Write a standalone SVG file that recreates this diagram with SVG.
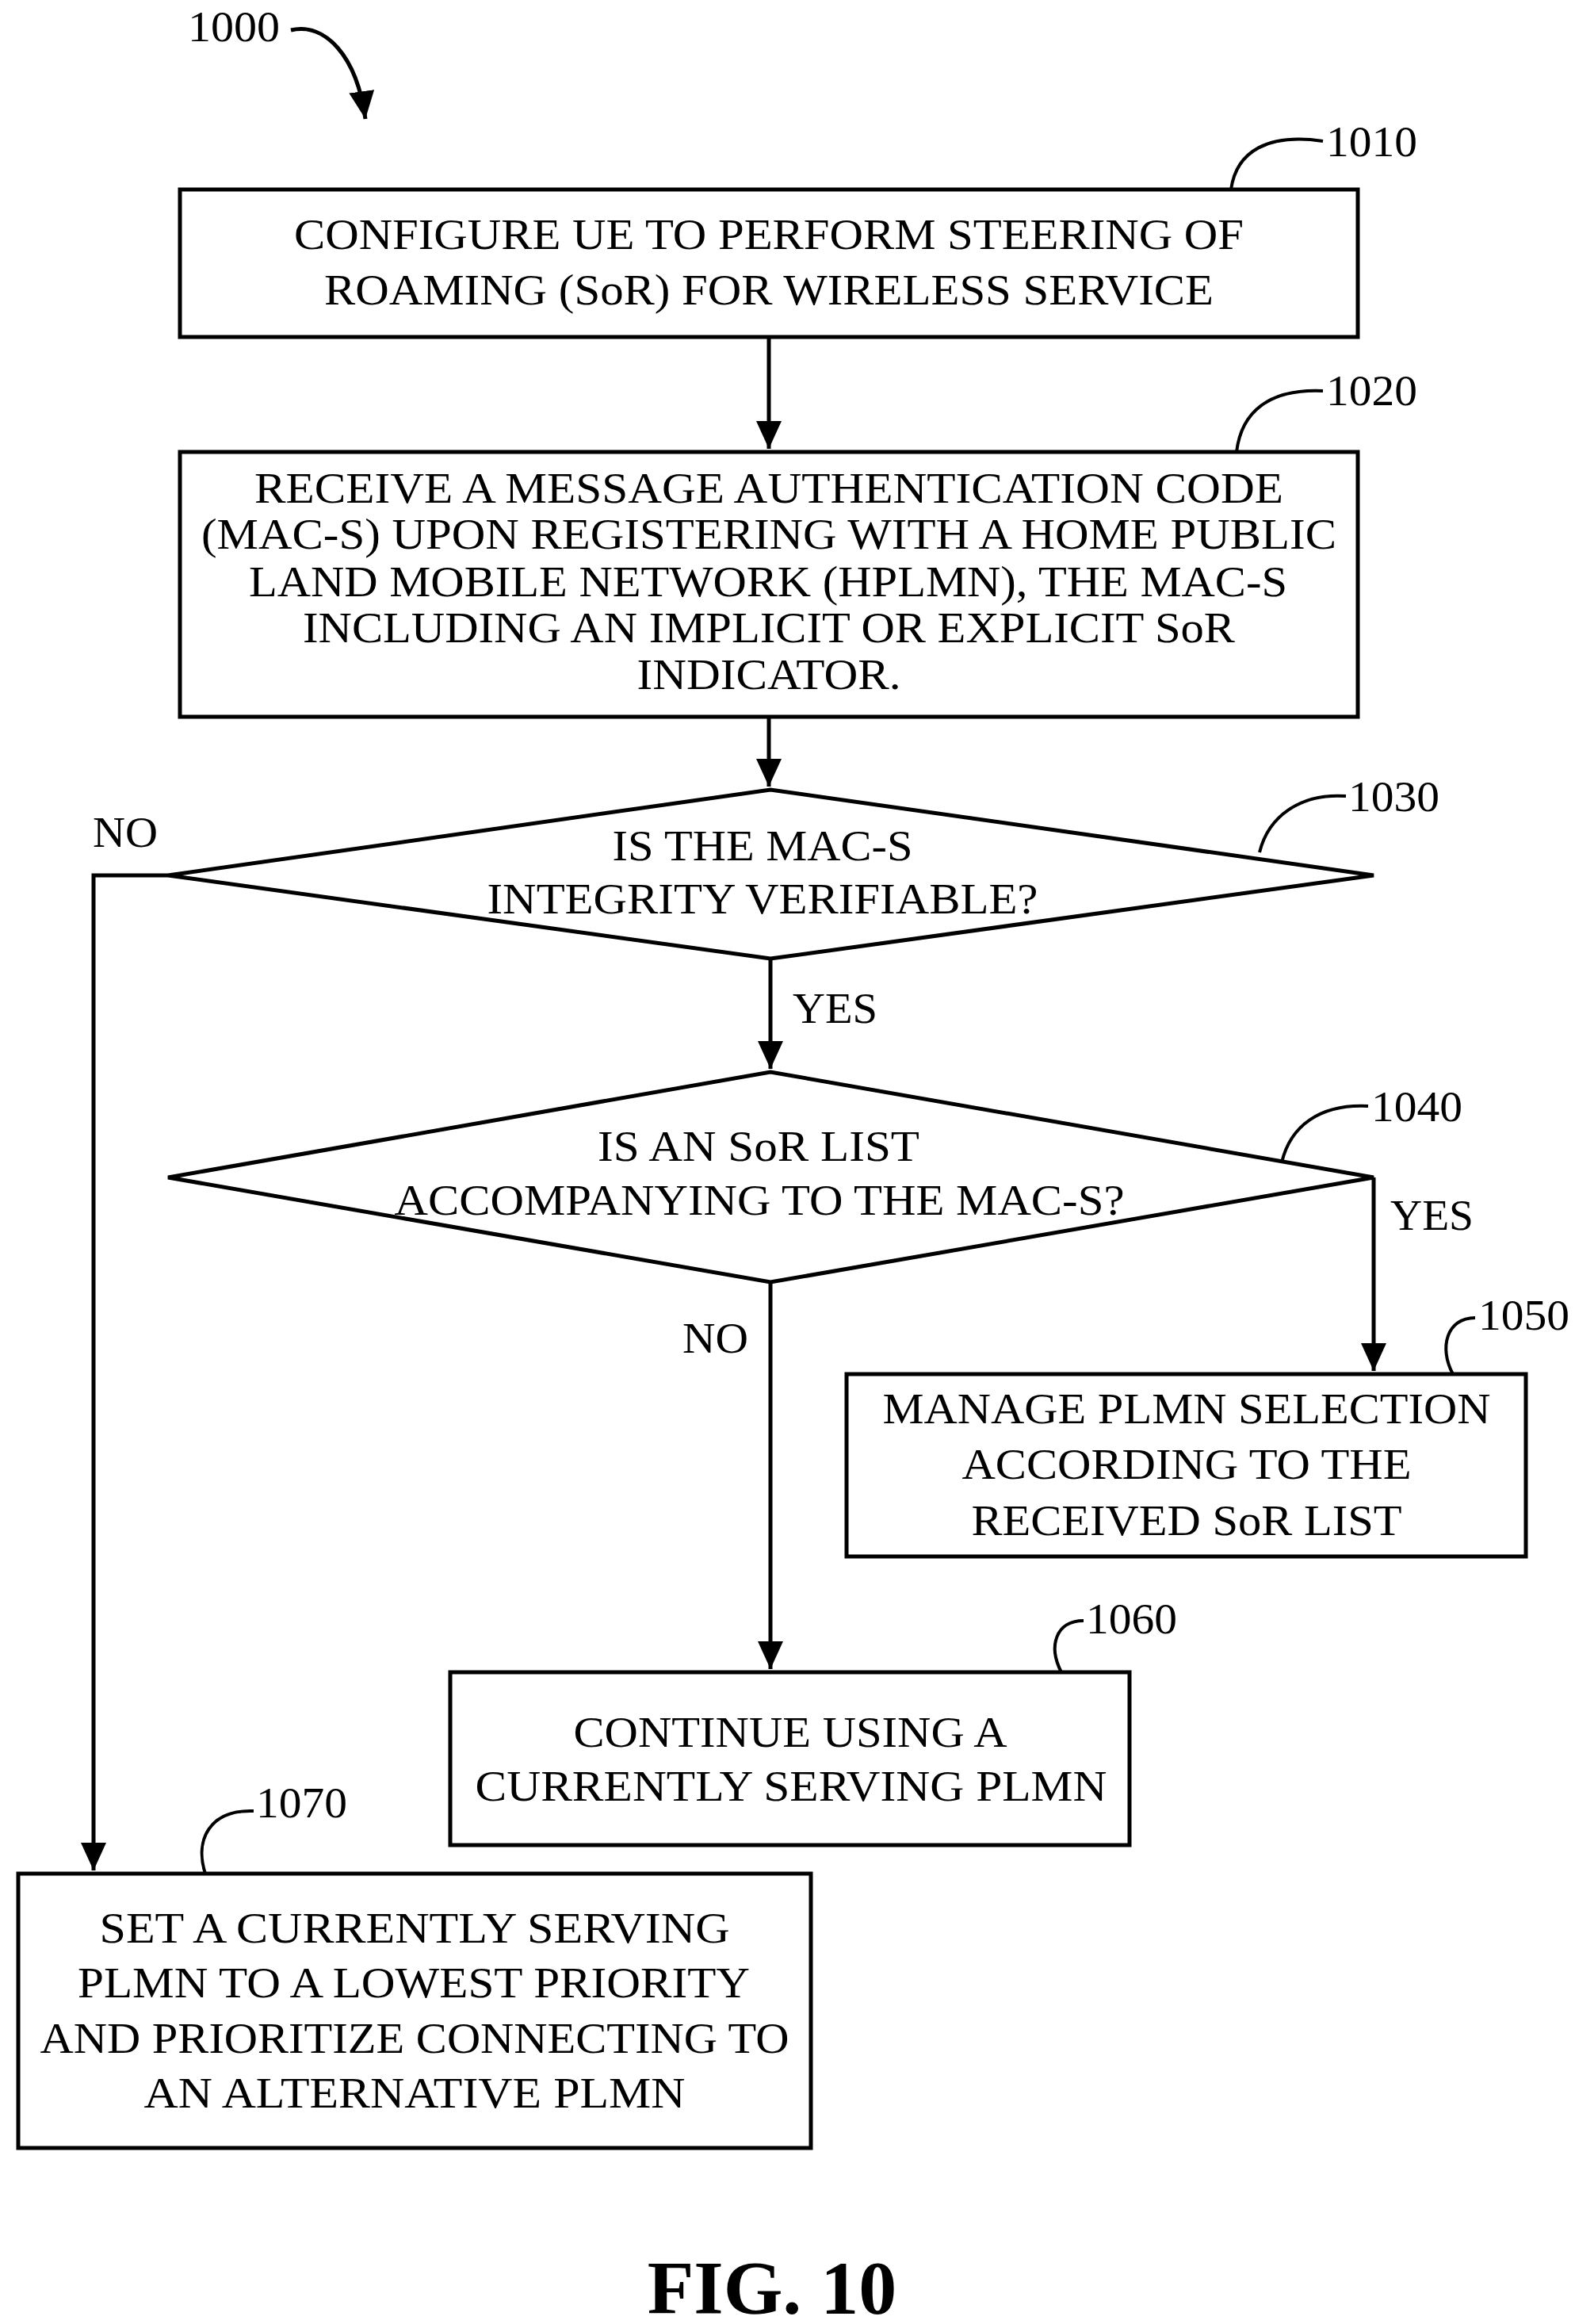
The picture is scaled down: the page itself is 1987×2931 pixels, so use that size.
<svg xmlns="http://www.w3.org/2000/svg" width="1987" height="2931" viewBox="0 0 1987 2931">
<defs>
<marker id="ah" markerWidth="8" markerHeight="8" refX="7" refY="4" orient="auto" markerUnits="strokeWidth"><path d="M0,0.8 L7,4 L0,7.2 z" fill="#000"/></marker>
<style>
.b{fill:#fff;stroke:#000;stroke-width:5}
.c{fill:none;stroke:#000;stroke-width:5}
.l{fill:none;stroke:#000;stroke-width:4}
text{font-family:"Liberation Serif","Times New Roman",serif;font-size:54px;fill:#000}
.m{text-anchor:middle}
</style>
</defs>
<rect width="1987" height="2931" fill="#fff"/>
<g id="connectors">
<line class="c" x1="970" y1="425" x2="970" y2="566" marker-end="url(#ah)"/>
<line class="c" x1="970" y1="904" x2="970" y2="992" marker-end="url(#ah)"/>
<line class="c" x1="972" y1="1209" x2="972" y2="1348" marker-end="url(#ah)"/>
<line class="c" x1="972" y1="1617" x2="972" y2="2105" marker-end="url(#ah)"/>
<polyline class="c" points="1733,1485 1733,1729" marker-end="url(#ah)"/>
<polyline class="c" points="212,1104 118,1104 118,2359" marker-end="url(#ah)"/>
<text x="117" y="1068" textLength="82" lengthAdjust="spacingAndGlyphs">NO</text>
<text x="1000" y="1290" textLength="107" lengthAdjust="spacingAndGlyphs">YES</text>
<text x="1754" y="1551" textLength="105" lengthAdjust="spacingAndGlyphs">YES</text>
<text x="861" y="1706" textLength="83" lengthAdjust="spacingAndGlyphs">NO</text>
</g>
<g id="n1000">
<text x="237" y="52" textLength="116" lengthAdjust="spacingAndGlyphs">1000</text>
<path class="c" d="M367,38 C410,28 450,70 461,150" marker-end="url(#ah)"/>
</g>
<g id="n1010">
<rect class="b" x="227" y="239" width="1486" height="186"/>
<text class="m" x="970" y="314" textLength="1198" lengthAdjust="spacingAndGlyphs">CONFIGURE UE TO PERFORM STEERING OF</text>
<text class="m" x="970" y="384" textLength="1122" lengthAdjust="spacingAndGlyphs">ROAMING (SoR) FOR WIRELESS SERVICE</text>
<path class="l" d="M1553,239 C1560,190 1600,168 1669,178"/>
<text x="1673" y="197" textLength="115" lengthAdjust="spacingAndGlyphs">1010</text>
</g>
<g id="n1020">
<rect class="b" x="227" y="570" width="1486" height="334"/>
<text class="m" x="970" y="634" textLength="1298" lengthAdjust="spacingAndGlyphs">RECEIVE A MESSAGE AUTHENTICATION CODE</text>
<text class="m" x="970" y="692" textLength="1432" lengthAdjust="spacingAndGlyphs">(MAC-S) UPON REGISTERING WITH A HOME PUBLIC</text>
<text class="m" x="969" y="752" textLength="1310" lengthAdjust="spacingAndGlyphs">LAND MOBILE NETWORK (HPLMN), THE MAC-S</text>
<text class="m" x="970" y="810" textLength="1176" lengthAdjust="spacingAndGlyphs">INCLUDING AN IMPLICIT OR EXPLICIT SoR</text>
<text class="m" x="970" y="869" textLength="333" lengthAdjust="spacingAndGlyphs">INDICATOR.</text>
<path class="l" d="M1560,570 C1566,520 1600,490 1669,493"/>
<text x="1673" y="511" textLength="115" lengthAdjust="spacingAndGlyphs">1020</text>
</g>
<g id="n1030">
<polygon class="b" points="212,1104 972,996 1733,1104 972,1209"/>
<text class="m" x="962" y="1085" textLength="379" lengthAdjust="spacingAndGlyphs">IS THE MAC-S</text>
<text class="m" x="962" y="1152" textLength="695" lengthAdjust="spacingAndGlyphs">INTEGRITY VERIFIABLE?</text>
<path class="l" d="M1589,1075 C1600,1030 1640,1000 1698,1004"/>
<text x="1701" y="1023" textLength="115" lengthAdjust="spacingAndGlyphs">1030</text>
</g>
<g id="n1040">
<polygon class="b" points="212,1485 972,1352 1733,1485 972,1617"/>
<text class="m" x="957" y="1464" textLength="406" lengthAdjust="spacingAndGlyphs">IS AN SoR LIST</text>
<text class="m" x="958" y="1532" textLength="921" lengthAdjust="spacingAndGlyphs">ACCOMPANYING TO THE MAC-S?</text>
<path class="l" d="M1617,1466 C1628,1420 1665,1392 1726,1395"/>
<text x="1730" y="1414" textLength="115" lengthAdjust="spacingAndGlyphs">1040</text>
</g>
<g id="n1050">
<rect class="b" x="1068" y="1733" width="857" height="230"/>
<text class="m" x="1497" y="1795" textLength="767" lengthAdjust="spacingAndGlyphs">MANAGE PLMN SELECTION</text>
<text class="m" x="1497" y="1865" textLength="567" lengthAdjust="spacingAndGlyphs">ACCORDING TO THE</text>
<text class="m" x="1497" y="1936" textLength="543" lengthAdjust="spacingAndGlyphs">RECEIVED SoR LIST</text>
<path class="l" d="M1833,1733 C1815,1700 1825,1662 1861,1662"/>
<text x="1865" y="1677" textLength="115" lengthAdjust="spacingAndGlyphs">1050</text>
</g>
<g id="n1060">
<rect class="b" x="568" y="2109" width="857" height="218"/>
<text class="m" x="997" y="2203" textLength="547" lengthAdjust="spacingAndGlyphs">CONTINUE USING A</text>
<text class="m" x="998" y="2271" textLength="797" lengthAdjust="spacingAndGlyphs">CURRENTLY SERVING PLMN</text>
<path class="l" d="M1339,2109 C1322,2076 1332,2044 1367,2044"/>
<text x="1370" y="2060" textLength="115" lengthAdjust="spacingAndGlyphs">1060</text>
</g>
<g id="n1070">
<rect class="b" x="23" y="2363" width="1000" height="346"/>
<text class="m" x="523" y="2450" textLength="795" lengthAdjust="spacingAndGlyphs">SET A CURRENTLY SERVING</text>
<text class="m" x="522" y="2519" textLength="848" lengthAdjust="spacingAndGlyphs">PLMN TO A LOWEST PRIORITY</text>
<text class="m" x="523" y="2589" textLength="945" lengthAdjust="spacingAndGlyphs">AND PRIORITIZE CONNECTING TO</text>
<text class="m" x="523" y="2658" textLength="683" lengthAdjust="spacingAndGlyphs">AN ALTERNATIVE PLMN</text>
<path class="l" d="M259,2363 C245,2320 265,2282 320,2284"/>
<text x="323" y="2292" textLength="115" lengthAdjust="spacingAndGlyphs">1070</text>
</g>
<text class="m" x="974" y="2918" style="font-size:96px;font-weight:bold">FIG. 10</text>
</svg>
